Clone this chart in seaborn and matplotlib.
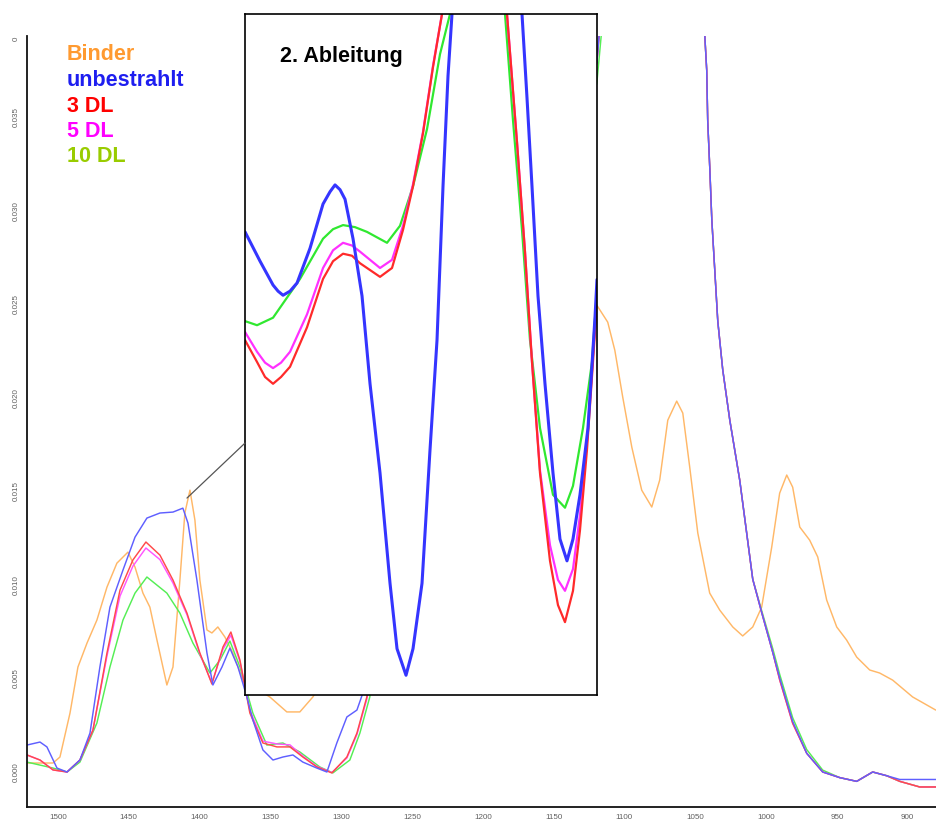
import matplotlib
matplotlib.use("Agg")
import pandas as pd
import matplotlib.pyplot as plt
import seaborn as sns
from matplotlib.patches import ConnectionPatch

# ---- Hauptspektrum (Wellenzahl cm^-1, Absorbanz) ----
binder_wn = [1521.9, 1503.5, 1498.6, 1491.5, 1485.9, 1479.5, 1472.5, 1465.4, 1458.4, 1450.6,
             1445.6, 1440.0, 1435.1, 1430.1, 1423.1, 1418.8, 1413.9, 1410.4, 1406.8, 1403.3,
             1399.8, 1394.8, 1391.3, 1387.1, 1382.1, 1376.5, 1369.4, 1350.4, 1338.4, 1329.2,
             1320.0, 1300.0, 1270.0, 1230.0, 1190.0, 1150.0, 1130.0, 1120.9, 1111.8, 1106.8,
             1101.2, 1094.8, 1087.8, 1080.7, 1075.1, 1069.4, 1063.1, 1058.8, 1053.9, 1048.2,
             1039.8, 1032.7, 1023.5, 1016.5, 1009.4, 1003.1, 996.0, 990.4, 985.4, 981.2,
             976.2, 969.2, 963.5, 957.2, 950.1, 943.1, 936.0, 926.8, 919.8, 910.6,
             896.5, 880.2]
binder_abs = [0.00048, 0.00048, 0.00080, 0.00315, 0.00561, 0.00689, 0.00812, 0.00988, 0.01116, 0.01175,
              0.01095, 0.00956, 0.00881, 0.00705, 0.00465, 0.00561, 0.01026, 0.01384, 0.01506, 0.01346,
              0.01026, 0.00759, 0.00743, 0.00775, 0.00721, 0.00636, 0.00491, 0.00401, 0.00321, 0.00321,
              0.00401, 0.0065, 0.011, 0.017, 0.022, 0.025, 0.0258, 0.02511, 0.02404, 0.02254,
              0.02003, 0.01736, 0.01506, 0.01416, 0.01560, 0.01880, 0.01982, 0.01918, 0.01629, 0.01277,
              0.00956, 0.00865, 0.00775, 0.00727, 0.00775, 0.00881, 0.01202, 0.01490, 0.01587, 0.01522,
              0.01309, 0.01239, 0.01149, 0.00919, 0.00775, 0.00705, 0.00614, 0.00545, 0.00529, 0.00491,
              0.00401, 0.00331]

unb_wn = [1521.9, 1512.7, 1507.8, 1500.7, 1493.6, 1484.5, 1477.4, 1470.4, 1463.3, 1454.1,
          1445.6, 1437.2, 1428.0, 1418.8, 1411.8, 1408.2, 1401.9, 1394.8, 1390.6, 1384.2,
          1378.6, 1372.9, 1366.6, 1362.4, 1355.3, 1348.2, 1341.2, 1334.1, 1327.1, 1317.2,
          1310.1, 1303.1, 1296.0, 1288.9, 1284.7]
unb_abs = [0.00144, 0.00160, 0.00134, 0.00021, 0.0, 0.00064, 0.00208, 0.00561, 0.00881, 0.01079,
           0.01255, 0.01357, 0.01384, 0.01389, 0.01410, 0.01330, 0.01026, 0.00636, 0.00465, 0.00561,
           0.00662, 0.00561, 0.00401, 0.00278, 0.00118, 0.00064, 0.00080, 0.00091, 0.00053, 0.00021,
           0.0, 0.00155, 0.00294, 0.00331, 0.00422]

dl3_wn = [1521.9, 1512.7, 1503.5, 1493.6, 1484.5, 1475.3, 1465.4, 1456.2, 1447.1, 1437.9,
          1428.0, 1418.8, 1408.9, 1399.8, 1391.3, 1383.5, 1377.9, 1371.5, 1364.5, 1355.3,
          1345.4, 1336.2, 1327.1, 1317.2, 1306.6, 1296.0, 1288.9, 1281.9]
dl3_abs = [0.00091, 0.00064, 0.00011, 0.0, 0.00064, 0.00224, 0.00636, 0.00972, 0.01133, 0.01229,
           0.01159, 0.01026, 0.00849, 0.00636, 0.00470, 0.00668, 0.00748, 0.00598, 0.00315, 0.00155,
           0.00134, 0.00134, 0.00080, 0.00027, -0.00005, 0.00080, 0.00208, 0.00401]
dl5_abs = [0.00091, 0.00064, 0.00011, 0.0, 0.00064, 0.00224, 0.00620, 0.00940, 0.01100, 0.01197,
           0.01135, 0.01010, 0.00840, 0.00630, 0.00475, 0.00655, 0.00731, 0.00590, 0.00330, 0.00165,
           0.00150, 0.00145, 0.00085, 0.00030, -0.00003, 0.00075, 0.00200, 0.00390]

dl10_wn = [1521.9, 1503.5, 1493.6, 1484.5, 1472.5, 1463.3, 1454.1, 1445.6, 1437.2, 1423.1,
           1413.9, 1404.7, 1392.7, 1385.6, 1378.6, 1371.5, 1362.4, 1352.5, 1341.2, 1329.2,
           1315.1, 1305.9, 1293.9, 1286.8, 1279.8]
dl10_abs = [0.00053, 0.00021, 0.0, 0.00053, 0.00262, 0.00561, 0.00812, 0.00956, 0.01042, 0.00956,
            0.00849, 0.00689, 0.00529, 0.00598, 0.00700, 0.00561, 0.00315, 0.00144, 0.00155, 0.00107,
            0.00027, -0.00005, 0.00064, 0.00208, 0.00401]

# hinter dem Einschub / oberhalb des Bildes
hidden_wn = [1275, 1250, 1220, 1190, 1160, 1135, 1119.5, 1115, 1100, 1080]
hidden_abs = [0.007, 0.013, 0.019, 0.024, 0.029, 0.033, 0.0379, 0.042, 0.055, 0.062]
hidden_abs_10 = [0.007, 0.013, 0.019, 0.024, 0.029, 0.033, 0.0368, 0.0405, 0.055, 0.062]

tail_wn = [1060, 1047, 1043.3, 1041.9, 1041.2, 1039.7, 1038.3, 1036.2, 1034.1, 1030.6,
           1025.6, 1018.6, 1009.4, 1003.0, 995.3, 990.3, 981.2, 971.3, 960.0, 948.0,
           936.0, 924.7, 914.8, 905.6, 891.5, 880.0]
tail_abs = [0.060, 0.045, 0.0394, 0.0375, 0.0348, 0.0322, 0.0295, 0.0268, 0.0241, 0.0215,
            0.0188, 0.0156, 0.0103, 0.0085, 0.0064, 0.0049, 0.0026, 0.0010, 0.0000, -0.0003,
            -0.0005, 0.0000, -0.0002, -0.0005, -0.0008, -0.0008]
tail_abs_unb = [0.060, 0.045, 0.0394, 0.0375, 0.0348, 0.0322, 0.0295, 0.0268, 0.0241, 0.0215,
                0.0188, 0.0156, 0.0103, 0.0085, 0.0064, 0.0050, 0.0027, 0.0010, 0.0000, -0.0003,
                -0.0005, 0.0000, -0.0002, -0.0004, -0.0004, -0.0004]
tail_abs_10 = [0.060, 0.045, 0.0394, 0.0375, 0.0348, 0.0322, 0.0295, 0.0268, 0.0241, 0.0215,
               0.0188, 0.0156, 0.0103, 0.0086, 0.0066, 0.0052, 0.0029, 0.0012, 0.0001, -0.0003,
               -0.0005, 0.0000, -0.0002, -0.0005, -0.0008, -0.0008]

# ---- Einschub: 2. Ableitung (willkuerliche Einheiten) ----
unb_i_wn = [1200, 1196.25, 1193, 1191.75, 1190.5, 1188.75, 1187, 1183.75, 1180.5, 1178.75,
            1177.5, 1176.25, 1175, 1173, 1170.75, 1168.75, 1166.25, 1163.75, 1162, 1159.75,
            1158, 1155.75, 1153.75, 1152, 1150.5, 1149.25, 1148.25, 1140, 1130.75, 1129.5,
            1128.25, 1126.75, 1125, 1123, 1121.25, 1119.5, 1118, 1116.25, 1114.25, 1112.5, 1112]
unb_i_d2 = [-3.20, -3.63, -3.98, -4.07, -4.13, -4.07, -3.95, -3.44, -2.79, -2.61,
            -2.51, -2.58, -2.72, -3.30, -4.14, -5.43, -6.74, -8.36, -9.32, -9.71,
            -9.32, -8.36, -6.40, -4.79, -2.53, -0.91, 0.0, 3.0, 0.0, -1.23,
            -2.53, -4.14, -5.43, -6.74, -7.71, -8.03, -7.71, -7.06, -6.08, -4.46, -3.9]

dl_i_wn = [1200, 1197, 1195, 1193, 1191, 1188.75, 1184.5, 1180.5, 1178, 1175.5,
           1173.25, 1171.25, 1166.25, 1163.25, 1160.5, 1158, 1155.5, 1153, 1150.75, 1142,
           1134.5, 1132, 1130, 1128.25, 1126.25, 1123.75, 1121.75, 1120, 1118, 1116.25,
           1114.5, 1113, 1112]
dl3_i_d2 = [-4.79, -5.11, -5.33, -5.43, -5.33, -5.18, -4.60, -3.89, -3.63, -3.52,
            -3.55, -3.66, -3.86, -3.73, -3.17, -2.53, -1.75, -0.78, 0.0, 3.0,
            0.0, -1.88, -3.49, -5.11, -6.74, -8.03, -8.68, -8.93, -8.47, -7.58,
            -6.40, -5.11, -4.20]
dl5_i_d2 = [-4.67, -4.96, -5.12, -5.20, -5.12, -4.96, -4.41, -3.73, -3.47, -3.36,
            -3.40, -3.49, -3.73, -3.61, -3.11, -2.50, -1.73, -0.76, 0.0, 3.0,
            0.0, -1.88, -3.49, -5.11, -6.70, -7.80, -8.31, -8.47, -8.15, -7.36,
            -6.28, -5.01, -4.20]

dl10_i_wn = [1200, 1197, 1193, 1186.25, 1180.5, 1178, 1175.5, 1172.5, 1169.5, 1164.5,
             1161.25, 1158, 1154.5, 1151.25, 1148.75, 1142, 1135, 1133, 1130.75, 1128.75,
             1126.25, 1123, 1120, 1118, 1115.5, 1113.25, 1112]
dl10_i_d2 = [-4.51, -4.57, -4.46, -3.89, -3.30, -3.16, -3.10, -3.13, -3.20, -3.36,
             -3.11, -2.53, -1.69, -0.59, 0.0, 3.0, 0.0, -1.56, -3.17, -4.79,
             -6.08, -7.06, -7.25, -6.93, -6.08, -5.11, -4.05]

labels = ["Binder", "unbestrahlt", "3 DL", "5 DL", "10 DL"]
line_colors = {"Binder": "#FFB868", "unbestrahlt": "#5F5FFF", "3 DL": "#FF4A4A",
               "5 DL": "#FF55FF", "10 DL": "#55EE55"}
inset_colors = {"unbestrahlt": "#3535FF", "3 DL": "#FF2A2A", "5 DL": "#FF30FF", "10 DL": "#30E830"}
text_colors = ["#FF9A30", "#1E1EF0", "#FF0000", "#FF00FF", "#99CC00"]


def frame(name, wn, val):
    return pd.DataFrame({"wn": wn, "val": val, "probe": name})


main_df = pd.concat([
    frame("Binder", binder_wn, binder_abs),
    frame("10 DL", dl10_wn + hidden_wn + tail_wn, dl10_abs + hidden_abs_10 + tail_abs_10),
    frame("5 DL", dl3_wn + hidden_wn + tail_wn, dl5_abs + hidden_abs + tail_abs),
    frame("3 DL", dl3_wn + hidden_wn + tail_wn, dl3_abs + hidden_abs + tail_abs),
    frame("unbestrahlt", unb_wn + hidden_wn + tail_wn, unb_abs + hidden_abs + tail_abs_unb),
], ignore_index=True)

inset_df = pd.concat([
    frame("10 DL", dl10_i_wn, dl10_i_d2),
    frame("5 DL", dl_i_wn, dl5_i_d2),
    frame("3 DL", dl_i_wn, dl3_i_d2),
    frame("unbestrahlt", unb_i_wn, unb_i_d2),
], ignore_index=True)

sns.set_style("white")
plt.rcParams["font.family"] = ["Liberation Sans", "DejaVu Sans"]

fig = plt.figure(figsize=(9.36, 8.27), dpi=100)
ax = fig.add_axes([0.0288, 0.0242, 0.9712, 0.932])

sns.lineplot(data=main_df, x="wn", y="val", hue="probe", palette=line_colors,
             estimator=None, sort=False, linewidth=1.05, legend=False, ax=ax)
ax.set_xlim(1521.9, 880.0)
ax.set_ylim(-0.00187, 0.03932)
ax.set_xlabel("")
ax.set_ylabel("")
ax.set_xticks(list(range(1500, 899, -50)))
ax.set_xticklabels([str(v) for v in range(1500, 899, -50)])
yt = [0.0, 0.005, 0.010, 0.015, 0.020, 0.025, 0.030, 0.035, 0.0392]
ax.set_yticks(yt)
ax.set_yticklabels(["0.000", "0.005", "0.010", "0.015", "0.020", "0.025", "0.030", "0.035", "0"],
                   rotation=90, va="center")
ax.tick_params(axis="both", labelsize=5.8, length=3, width=0.8,
               direction="out", pad=2, colors="#333333")
ax.tick_params(axis="both", labelcolor="#606060")
for s in ["top", "right"]:
    ax.spines[s].set_visible(False)
for s in ["left", "bottom"]:
    ax.spines[s].set_color("#111111")
    ax.spines[s].set_linewidth(1.3)

# Einschub
ax_in = fig.add_axes([0.2618, 0.1596, 0.376, 0.8235])
sns.lineplot(data=inset_df, x="wn", y="val", hue="probe", palette=inset_colors,
             estimator=None, sort=False, linewidth=1.6, legend=False, ax=ax_in)
for ln in ax_in.get_lines():
    if ln.get_color().lower() == "#3535ff":
        ln.set_linewidth(2.2)
ax_in.set_xlim(1200, 1112)
ax_in.set_ylim(-10, 0)
ax_in.set_xticks([])
ax_in.set_yticks([])
ax_in.set_xlabel("")
ax_in.set_ylabel("")
ax_in.set_facecolor("white")
for s in ax_in.spines.values():
    s.set_visible(True)
    s.set_color("black")
    s.set_linewidth(1.2)
ax_in.text(0.10, 0.937, "2. Ableitung", transform=ax_in.transAxes, fontsize=15.5,
           fontweight="bold", color="black", va="center", ha="left")

con = ConnectionPatch(xyA=(1408.9, 0.01464), coordsA=ax.transData,
                      xyB=(0.0, 0.37), coordsB=ax_in.transAxes,
                      color="#555555", linewidth=0.9)
fig.add_artist(con)

# Legende als farbiger Text
for i, (lab, col) in enumerate(zip(labels, text_colors)):
    fig.text(67 / 936, 1 - (55 + 25.5 * i) / 827, lab, color=col, fontsize=15.5,
             fontweight="bold", va="center", ha="left")

fig.savefig("out.png", dpi=100)
